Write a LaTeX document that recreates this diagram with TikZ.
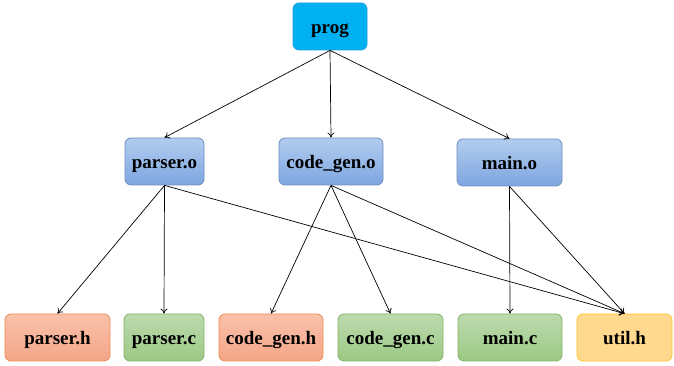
\documentclass[tikz,border=0pt]{standalone}
\usepackage{fontspec}
\setmainfont{Liberation Serif}
\usetikzlibrary{arrows.meta}

\definecolor{progfill}{HTML}{00B0F0}
\definecolor{progline}{HTML}{1BA1E2}
\definecolor{objtop}{HTML}{B2CCEF}
\definecolor{objbot}{HTML}{7EA6E0}
\definecolor{objline}{HTML}{6C8EBF}
\definecolor{hdrtop}{HTML}{FAC1AB}
\definecolor{hdrbot}{HTML}{F4A587}
\definecolor{hdrline}{HTML}{F08A50}
\definecolor{srctop}{HTML}{BDDAAE}
\definecolor{srcbot}{HTML}{9BC985}
\definecolor{srcline}{HTML}{82B366}
\definecolor{utilfill}{HTML}{FFD98E}
\definecolor{utilline}{HTML}{FFC52B}

\tikzset{
  filebox/.style={draw, rounded corners=6pt, minimum height=47pt, inner sep=0pt,
    text height=15pt, text depth=0pt,
    line width=0.8pt, font=\fontsize{19}{21}\selectfont\bfseries},
  progbox/.style={filebox, fill=progfill, draw=progline},
  objbox/.style={filebox, top color=objtop, bottom color=objbot, draw=objline},
  hdrbox/.style={filebox, top color=hdrtop, bottom color=hdrbot, draw=hdrline},
  srcbox/.style={filebox, top color=srctop, bottom color=srcbot, draw=srcline},
  utilbox/.style={filebox, fill=utilfill, draw=utilline},
  dep/.style={line width=0.7pt, -{To[length=5pt,width=7pt]}}
}

\begin{document}
\begin{tikzpicture}[x=1pt,y=1pt]
                \useasboundingbox (0,0) rectangle (674,366);

                \node[progbox, minimum width=74pt] (prog) at (330, 339.5) {prog};

                \node[objbox, minimum width=79pt] (parsero) at (164.5, 204.5) {parser.o};
                \node[objbox, minimum width=104pt] (codegeno) at (331, 204.5) {code\_gen.o};
                \node[objbox, minimum width=105pt] (maino) at (509.5, 203.5) {main.o};

                \node[hdrbox, minimum width=105pt] (parserh) at (57.5, 28.5) {parser.h};
                \node[srcbox, minimum width=80pt] (parserc) at (164, 28.5) {parser.c};
                \node[hdrbox, minimum width=104pt] (codegenh) at (271, 28.5) {code\_gen.h};
                \node[srcbox, minimum width=105pt] (codegenc) at (390.5, 28.5) {code\_gen.c};
                \node[srcbox, minimum width=104pt] (mainc) at (510, 28.5) {main.c};
                \node[utilbox, minimum width=95pt] (utilh) at (624.5, 28.5) {util.h};

                \draw[dep] (prog.south) -- (parsero.north);
                \draw[dep] (prog.south) -- (codegeno.north);
                \draw[dep] (prog.south) -- (maino.north);

                \draw[dep] (parsero.south) -- (parserh.north);
                \draw[dep] (parsero.south) -- (parserc.north);
                \draw[dep] (parsero.south) -- (utilh.north);

                \draw[dep] (codegeno.south) -- (codegenh.north);
                \draw[dep] (codegeno.south) -- (codegenc.north);
                \draw[dep] (codegeno.south) -- (utilh.north);

                \draw[dep] (maino.south) -- (mainc.north);
                \draw[dep] (maino.south) -- (utilh.north);
\end{tikzpicture}
\end{document}
